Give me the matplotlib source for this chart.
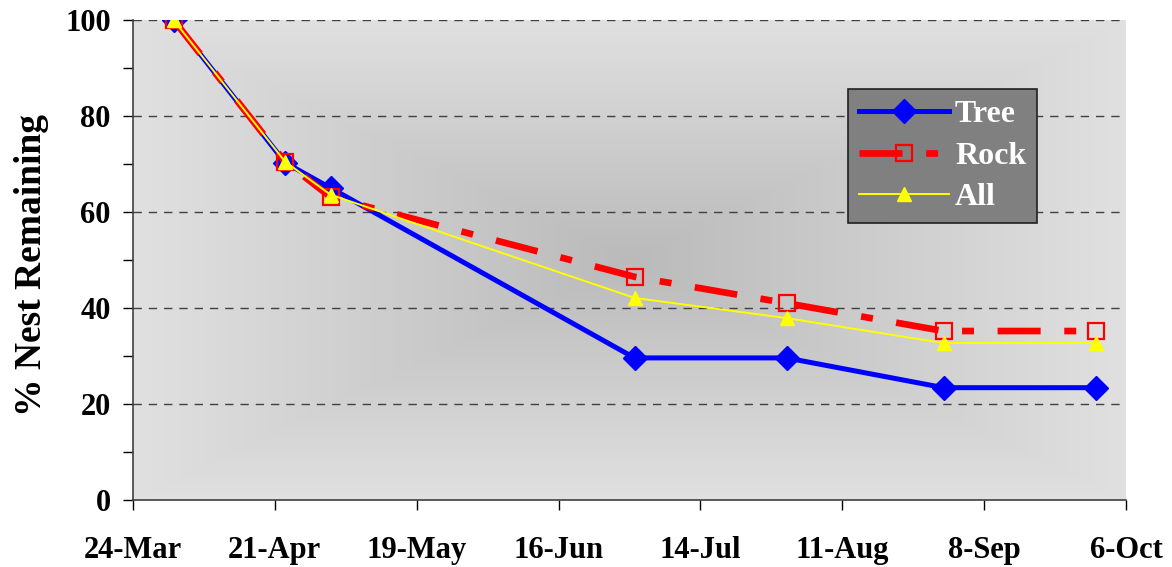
import datetime as dt
import numpy as np
import matplotlib
matplotlib.use("Agg")
import matplotlib.pyplot as plt
import matplotlib.dates as mdates
from matplotlib.ticker import MultipleLocator

plt.rcParams["font.family"] = ["Liberation Serif", "DejaVu Serif"]
plt.rcParams["font.weight"] = "bold"
plt.rcParams["lines.scale_dashes"] = False

# survey dates (days counted from 24-Mar)
fechas = [dt.date(2003, 4, 1), dt.date(2003, 4, 23), dt.date(2003, 5, 2),
          dt.date(2003, 7, 1), dt.date(2003, 7, 31), dt.date(2003, 8, 31),
          dt.date(2003, 9, 30)]
tree = [100, 70.3, 65.0, 29.6, 29.6, 23.4, 23.4]
rock = [100, 70.5, 63.1, 46.5, 41.0, 35.2, 35.2]
all_nests = [100, 70.5, 63.6, 42.1, 37.9, 32.7, 32.7]

tick_fechas = [dt.date(2003, 3, 24) + dt.timedelta(days=28 * i) for i in range(8)]
tick_labels = ["24-Mar", "21-Apr", "19-May", "16-Jun", "14-Jul", "11-Aug", "8-Sep", "6-Oct"]

fig = plt.figure(figsize=(11.72, 5.67), dpi=100)
ax = fig.add_axes([133 / 1172, 1 - 500 / 567, 993 / 1172, 480 / 567])

# gradient background (dark center, light edges)
yy, xx = np.mgrid[0:1:300j, 0:1:600j]
d = np.maximum(np.abs(xx - 0.5) / 0.5, np.abs(yy - 0.5) / 0.5)
d = np.clip(d, 0, 1)
g = 0.73 + (0.88 - 0.73) * d
ax.imshow(np.dstack([g, g, g]), extent=[0, 1, 0, 1], transform=ax.transAxes,
          aspect="auto", origin="lower", zorder=0, interpolation="bilinear")

xs = mdates.date2num(fechas)

ax.plot(xs, tree, color="#0000ff", lw=3.6, marker="D", ms=12,
        markerfacecolor="#0000ff", markeredgecolor="#0000ff", label="Tree", zorder=3)
l_rock, = ax.plot(xs, rock, color="#ff0000", lw=4.8, marker="s", ms=12,
                  markerfacecolor="none", markeredgecolor="#ff0000", markeredgewidth=1.6,
                  label="Rock", zorder=4, dash_capstyle="butt")
l_rock.set_dashes([31, 17, 8.6, 17])
ax.plot(xs, all_nests, color="#ffff00", lw=1.4, marker="^", ms=10,
        markerfacecolor="#ffff00", markeredgecolor="#ffff00", label="All", zorder=5)

ax.set_xlim(mdates.date2num(tick_fechas[0]), mdates.date2num(tick_fechas[-1]))
ax.set_ylim(0, 100)
ax.set_xticks(mdates.date2num(tick_fechas))
ax.set_xticklabels(tick_labels)
ax.yaxis.set_major_locator(MultipleLocator(20))
ax.yaxis.set_minor_locator(MultipleLocator(10))

for v in [20, 40, 60, 80, 100]:
    ax.axhline(v, color="#404040", lw=1.0, dashes=(6, 5), zorder=1)

ax.tick_params(axis="both", which="major", length=7, width=1, direction="out")
ax.tick_params(axis="y", which="minor", length=7, width=1, direction="out")
ax.tick_params(axis="x", pad=19, labelsize=22)
ax.tick_params(axis="y", pad=9, labelsize=22)
for lbl in ax.get_xticklabels() + ax.get_yticklabels():
    lbl.set_fontweight("bold")

for s in ["top", "right"]:
    ax.spines[s].set_visible(False)
for s in ["left", "bottom"]:
    ax.spines[s].set_color("#404040")
    ax.spines[s].set_linewidth(1.2)

ax.set_ylabel("% Nest Remaining", fontsize=27, fontweight="bold")
ax.yaxis.set_label_coords(-0.085, 0.49)

leg = ax.legend(loc="upper left", bbox_to_anchor=(0.72, 0.857), fontsize=23,
                handlelength=2.8, labelspacing=0.38, borderpad=0.35,
                handletextpad=0.2, borderaxespad=0, fancybox=False, framealpha=1)
leg.get_frame().set_facecolor("#808080")
leg.get_frame().set_edgecolor("#202020")
leg.get_frame().set_linewidth(1.2)
for t in leg.get_texts():
    t.set_color("white")
    t.set_fontweight("bold")

fig.savefig("out.png", dpi=100)
